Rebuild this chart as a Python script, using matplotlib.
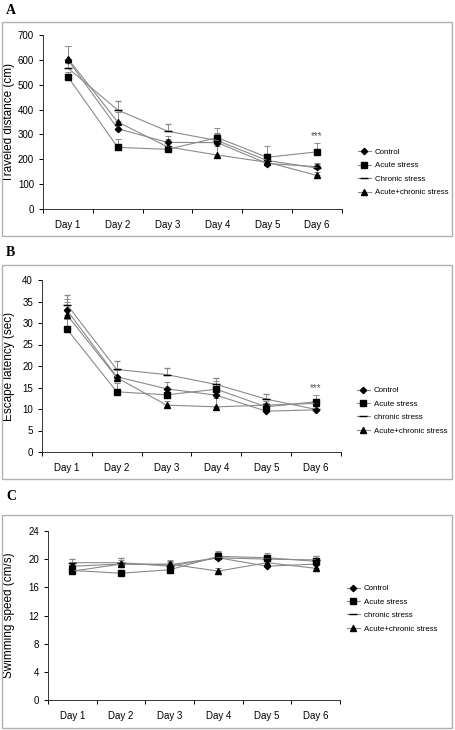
import numpy as np
import matplotlib
matplotlib.use('Agg')
import matplotlib.pyplot as plt
from matplotlib.patches import Rectangle
from matplotlib.lines import Line2D

plt.rcParams['font.family'] = ['Liberation Sans', 'DejaVu Sans']

days = ['Day 1', 'Day 2', 'Day 3', 'Day 4', 'Day 5', 'Day 6']

# A: traveled distance (cm)
a_control = [600, 323, 268, 267, 183, 170]
a_acute = [532, 248, 240, 287, 208, 230]
a_chronic = [567, 398, 313, 275, 195, 165]
a_combo = [605, 350, 250, 217, 188, 135]
a_err_control = [55, 30, 25, 40, 20, 15]
a_err_acute = [20, 32, 15, 40, 45, 35]
a_err_chronic = [20, 35, 28, 25, 25, 15]
a_err_combo = [50, 40, 30, 35, 20, 15]

# B: escape latency (sec)
b_control = [33.0, 17.5, 14.7, 13.2, 9.5, 9.8]
b_acute = [28.6, 14.0, 13.3, 14.6, 10.5, 11.7]
b_chronic = [34.3, 19.2, 18.0, 15.7, 12.3, 9.9]
b_combo = [31.9, 17.3, 10.9, 10.5, 10.9, 11.3]
b_err_control = [2.5, 1.5, 1.5, 2.0, 0.8, 0.8]
b_err_acute = [2.4, 2.0, 1.5, 2.0, 1.0, 1.6]
b_err_chronic = [2.3, 2.0, 1.5, 1.6, 1.3, 1.0]
b_err_combo = [3.0, 2.0, 1.0, 2.0, 1.0, 1.0]

# C: swimming speed (cm/s)
c_control = [19.0, 19.3, 19.2, 20.2, 19.0, 19.3]
c_acute = [18.4, 18.0, 18.5, 20.4, 20.2, 19.7]
c_chronic = [19.5, 19.5, 19.0, 20.2, 20.0, 19.9]
c_combo = [18.3, 19.3, 19.3, 18.3, 19.5, 18.7]
c_err_control = [0.6, 0.8, 0.6, 0.8, 0.5, 0.8]
c_err_acute = [0.6, 0.5, 0.6, 0.8, 0.7, 0.8]
c_err_chronic = [0.5, 0.6, 0.6, 0.6, 0.6, 0.6]
c_err_combo = [0.6, 0.6, 0.6, 0.5, 0.5, 0.5]

W, H = 455, 730
fig = plt.figure(figsize=(W / 100, H / 100), dpi=100)


def px(l, t, r, b):
    return [l / W, 1 - b / H, (r - l) / W, (b - t) / H]


# gray chart-area frames
for t, b in [(22, 236), (265, 479), (515, 728)]:
    fig.patches.append(Rectangle((2 / W, 1 - b / H), 450 / W, (b - t) / H,
                                 transform=fig.transFigure, fill=False,
                                 edgecolor='#b0b0b0', lw=1.0))

for lab, y in [('A', 10), ('B', 253), ('C', 497)]:
    fig.text(6 / W, 1 - y / H, lab, fontsize=10, fontweight='bold',
             family='Liberation Serif', va='center', ha='left')

x = np.arange(6)
lc = '#8a8a8a'
styles = [dict(marker='D', ms=3.2), dict(marker='s', ms=4.2),
          dict(marker='_', ms=6, mew=1.0), dict(marker='^', ms=4.5)]


def panel(ax, series, errs, names, ylim, yticks, ylabel, leg_xy, lab_x,
          star=None):
    handles = []
    for s, e, n, st in zip(series, errs, names, styles):
        ax.errorbar(x, s, yerr=[np.zeros(6), e], color=lc, lw=0.8,
                    mfc='black', mec='black', ecolor='#8a8a8a',
                    elinewidth=0.7, capsize=2, capthick=0.7, **st)
        handles.append(Line2D([], [], color=lc, lw=0.8, mfc='black',
                              mec='black', label=n, **st))
    ax.set_xlim(-0.5, 5.5)
    ax.set_ylim(*ylim)
    ax.set_yticks(yticks)
    ax.set_xticks(x)
    ax.set_xticklabels(days)
    ax.set_xticks(np.arange(-0.5, 6, 1), minor=True)
    ax.tick_params(axis='x', which='major', length=0, labelsize=7, pad=8)
    ax.tick_params(axis='x', which='minor', length=3, width=0.7)
    ax.tick_params(axis='y', length=3, width=0.7, labelsize=7)
    for sp in ['top', 'right']:
        ax.spines[sp].set_visible(False)
    for sp in ['left', 'bottom']:
        ax.spines[sp].set_linewidth(0.7)
        ax.spines[sp].set_color('#333333')
    ax.set_ylabel(ylabel, fontsize=8.5)
    ax.yaxis.set_label_coords(lab_x, 0.5)
    ax.legend(handles=handles, loc='center left', bbox_to_anchor=leg_xy,
              frameon=False, fontsize=5.7, handlelength=1.6,
              labelspacing=0.75, handletextpad=0.5)
    if star is not None:
        ax.text(5, star, '***', ha='center', va='bottom', fontsize=7,
                color='#555555')


axA = fig.add_axes(px(43, 35, 342, 209))
panel(axA, [a_control, a_acute, a_chronic, a_combo],
      [a_err_control, a_err_acute, a_err_chronic, a_err_combo],
      ['Control', 'Acute stress', 'Chronic stress', 'Acute+chronic stress'],
      (0, 700), range(0, 701, 100), 'Traveled distance (cm)',
      (1.03, 0.21), (15 - 43) / 299, star=272)

axB = fig.add_axes(px(42, 280, 341, 452))
panel(axB, [b_control, b_acute, b_chronic, b_combo],
      [b_err_control, b_err_acute, b_err_chronic, b_err_combo],
      ['Control', 'Acute stress', 'chronic stress', 'Acute+chronic stress'],
      (0, 40), range(0, 41, 5), 'Escape latency (sec)',
      (1.03, 0.24), (15 - 42) / 299, star=13.6)

axC = fig.add_axes(px(48, 531, 340, 700))
panel(axC, [c_control, c_acute, c_chronic, c_combo],
      [c_err_control, c_err_acute, c_err_chronic, c_err_combo],
      ['Control', 'Acute stress', 'chronic stress', 'Acute+chronic stress'],
      (0, 24), range(0, 25, 4), 'Swimming speed (cm/s)',
      (1.0, 0.54), (15 - 48) / 292)

fig.savefig('out.png', dpi=100)
